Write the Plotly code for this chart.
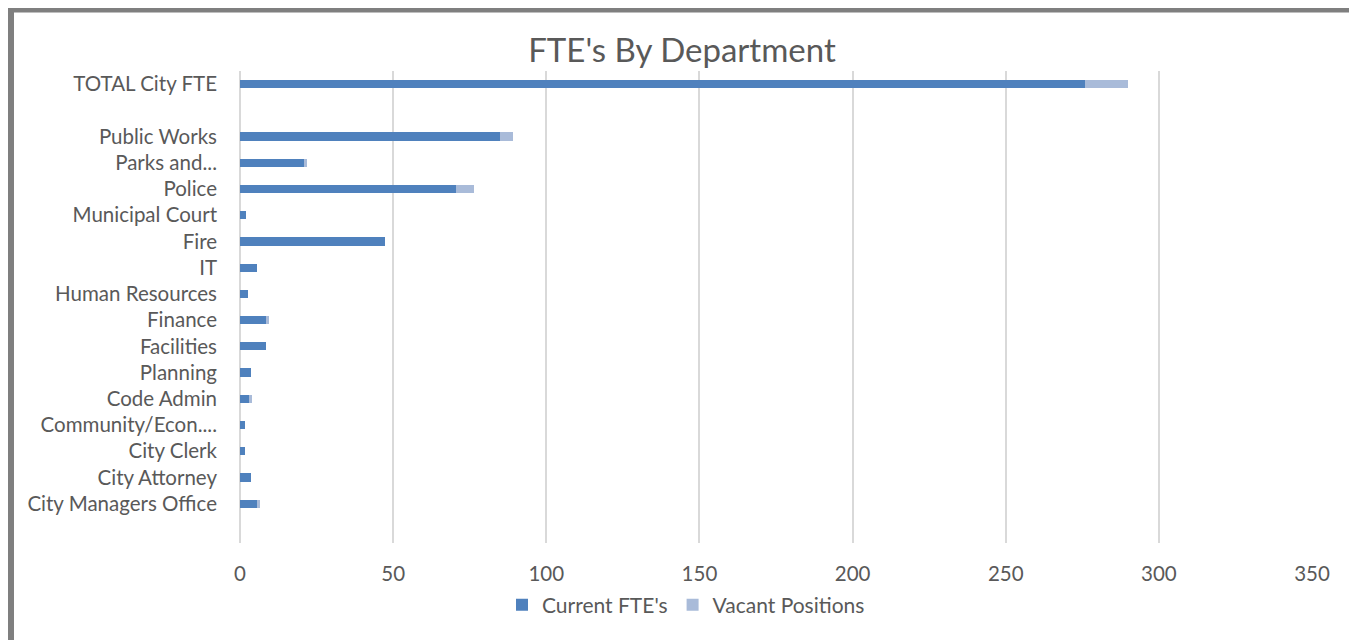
import plotly.graph_objects as go

# Departments, bottom to top as drawn (blank row separates the total)
departments = [
    "City Managers Office", "City Attorney", "City Clerk", "Community/Econ....",
    "Code Admin", "Planning", "Facilities", "Finance", "Human Resources", "IT",
    "Fire", "Municipal Court", "Police", "Parks and...", "Public Works", " ",
    "TOTAL City FTE",
]
current_fte = [5.5, 3.5, 1.5, 1.5, 3, 3.5, 8.5, 8.5, 2.5, 5.5,
               47.5, 2, 70.5, 21, 85, None, 276]
vacant_positions = [1, 0, 0, 0, 1, 0, 0, 1, 0, 0,
                    0, 0, 6, 1, 4, None, 14]
x_ticks = [0, 50, 100, 150, 200, 250, 300, 350]

# page has an 8px body margin, so figure coords = screen coords - 8
OFF = 8
W, H = 1357 - OFF, 640 - OFF
L, T = 240 - OFF, 71 - OFF
R, B = W - (1312 - OFF), H - (543 - OFF)
TXT = "#595959"
FONT = "Lato, 'Open Sans', sans-serif"


def px_x(p):
    return (p - OFF - L) / (W - L - R)


def px_y(p):
    return (H - B - (p - OFF)) / (H - T - B)


fig = go.Figure()
fig.add_trace(go.Bar(
    y=departments, x=current_fte, orientation="h", name="Current FTE's",
    marker=dict(color="#4f81bd", line=dict(width=0)), width=0.31,
))
fig.add_trace(go.Bar(
    y=departments, x=vacant_positions, orientation="h", name="Vacant Positions",
    marker=dict(color="#a9bbd9", line=dict(width=0)), width=0.31,
))

# outer grey frame of the chart area
fig.add_shape(
    type="rect", xref="paper", yref="paper",
    x0=px_x(9.5), x1=px_x(1354), y0=px_y(660), y1=px_y(8),
    line=dict(color="#7f7f7f", width=9), fillcolor="rgba(0,0,0,0)", layer="below",
)

fig.update_layout(
    barmode="stack",
    width=W, height=H,
    margin=dict(l=L, r=R, t=T, b=B),
    paper_bgcolor="white", plot_bgcolor="white",
    font=dict(family=FONT, color=TXT, size=20.5),
    title=dict(text="FTE's By Department", x=(682 - OFF) / W, xref="container",
               y=1 - (50 - OFF) / H, yref="container", xanchor="center", yanchor="middle",
               font=dict(size=33, color=TXT, family=FONT)),
    legend=dict(orientation="h", x=px_x(686), y=px_y(605), xanchor="center",
                yanchor="middle", font=dict(size=21, color=TXT), traceorder="normal",
                itemwidth=30),
    showlegend=True,
)
fig.update_xaxes(
    range=[0, 350], tickvals=x_ticks, showgrid=True, gridcolor="#d9d9d9",
    gridwidth=1.5, zeroline=True, zerolinecolor="#d9d9d9", zerolinewidth=1.5,
    showline=False, ticks="", ticklabelstandoff=16, tickfont=dict(size=20.5),
)
fig.update_yaxes(
    type="category", categoryorder="array", categoryarray=departments,
    range=[-1.5, 16.5], showgrid=False, ticks="", ticklabelstandoff=22,
    tickfont=dict(size=20.5), showline=False,
)

fig.write_html("out.html")
